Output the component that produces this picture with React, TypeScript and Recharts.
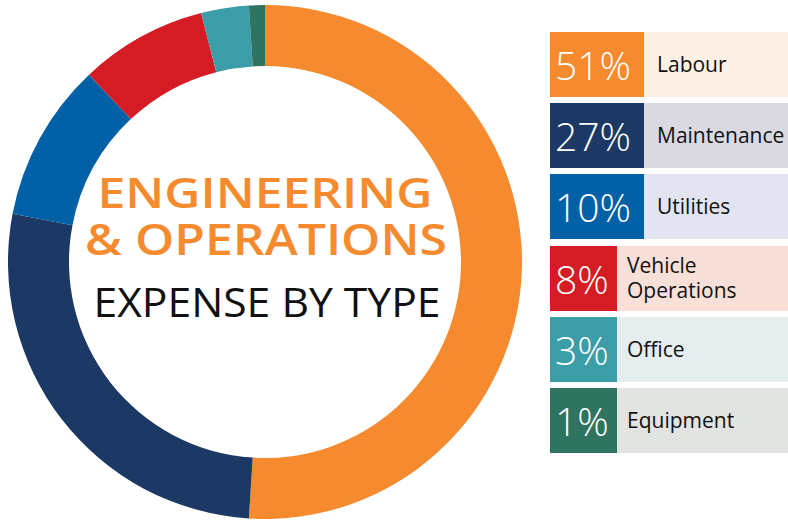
import React from 'react';
import { PieChart, Pie, Cell, Legend, Label } from 'recharts';

const categories = ['Labour', 'Maintenance', 'Utilities', 'Vehicle Operations', 'Office', 'Equipment'];
const values = [51, 27, 10, 8, 3, 1];
const titleLines = ['ENGINEERING', '& OPERATIONS'];
const subtitle = 'EXPENSE BY TYPE';

const colors = ['#F58A2E', '#1C3864', '#0160A6', '#D51B23', '#3A9DA8', '#2E7460'];
const lightColors = ['#FEF0E4', '#DAD9E2', '#E2E4F1', '#F8E0D8', '#E5EDEF', '#E1E4E1'];
const boxWidths = [94, 94, 94, 67, 67, 67];

const data = categories.map((name, i) => ({ name, value: values[i] }));

const FONT = '"Open Sans", "Noto Sans", sans-serif';

const CenterText = (props: any) => {
  const vb = props.viewBox || {};
  const cx = vb.cx ?? 265;
  const cy = vb.cy ?? 262;
  return (
    <g>
      <text
        x={cx}
        y={cy - 54}
        textAnchor="middle"
        fill="#F58A2E"
        fontFamily={FONT}
        fontWeight={600}
        fontSize={42}
        textLength={335}
        lengthAdjust="spacingAndGlyphs"
      >
        {titleLines[0]}
      </text>
      <text
        x={cx + 1}
        y={cy - 7}
        textAnchor="middle"
        fill="#F58A2E"
        fontFamily={FONT}
        fontWeight={600}
        fontSize={44}
        textLength={362}
        lengthAdjust="spacingAndGlyphs"
      >
        {titleLines[1]}
      </text>
      <text
        x={cx + 2}
        y={cy + 55}
        textAnchor="middle"
        fill="#111"
        fontFamily={FONT}
        fontWeight={400}
        fontSize={40}
        textLength={347}
        lengthAdjust="spacingAndGlyphs"
      >
        {subtitle}
      </text>
    </g>
  );
};

const LegendContent = () => (
  <div style={{ width: 238 }}>
    {categories.map((name, i) => (
      <div
        key={name}
        style={{
          display: 'flex',
          height: 65,
          marginBottom: 6.2,
          background: lightColors[i],
        }}
      >
        <div
          style={{
            width: boxWidths[i],
            flexShrink: 0,
            background: colors[i],
            color: '#fff',
            fontFamily: FONT,
            fontWeight: 300,
            fontSize: 39,
            lineHeight: '65px',
            paddingLeft: 5,
            boxSizing: 'border-box',
          }}
        >
          {values[i]}%
        </div>
        <div
          style={{
            display: 'flex',
            alignItems: 'center',
            paddingLeft: i < 3 ? 13 : 10,
            fontFamily: FONT,
            fontSize: 21,
            lineHeight: '25px',
            color: '#111',
            flex: 1,
            minWidth: 0,
          }}
        >
          {name}
        </div>
      </div>
    ))}
  </div>
);

export default function App() {
  return (
    <div style={{ position: 'absolute', left: 0, top: 0, width: 788, height: 521, background: '#fff' }}>
      <PieChart width={788} height={521} margin={{ top: 0, right: 0, bottom: 0, left: 0 }}>
        <Pie
          data={data}
          dataKey="value"
          nameKey="name"
          cx={265}
          cy={262}
          innerRadius={196}
          outerRadius={257}
          startAngle={90}
          endAngle={-270}
          stroke="none"
          isAnimationActive={false}
        >
          {data.map((d, i) => (
            <Cell key={d.name} fill={colors[i]} />
          ))}
          <Label position="center" content={<CenterText />} />
        </Pie>
        <Legend
          layout="vertical"
          verticalAlign="top"
          align="right"
          content={<LegendContent />}
          wrapperStyle={{ position: 'absolute', left: 550, top: 32, width: 238 }}
        />
      </PieChart>
    </div>
  );
}
